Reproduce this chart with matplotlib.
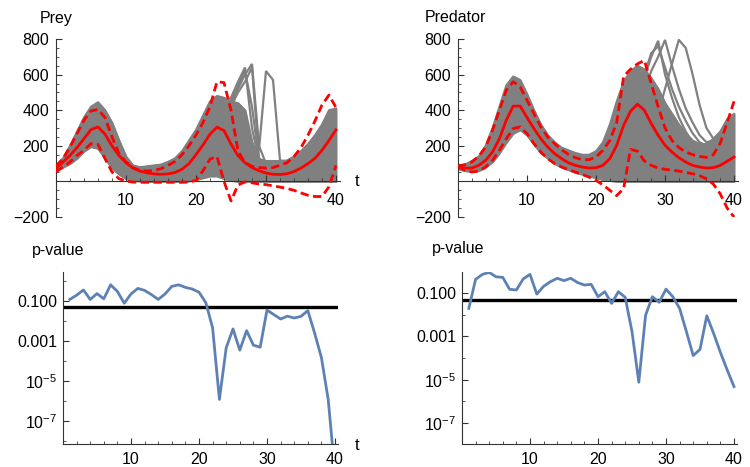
import matplotlib
matplotlib.use("Agg")
import matplotlib.pyplot as plt
from matplotlib.ticker import FixedLocator, FixedFormatter, MultipleLocator, NullFormatter

# ---------------- data ----------------
t_top = list(range(0, 41))
t_bot = list(range(1, 41))

prey_mean = [71, 109, 146, 190, 240, 291, 306, 265, 200, 145, 105,
             75, 58, 48, 42, 40, 42, 50, 68, 100, 150,
             205, 265, 305, 285, 210, 145, 105, 78, 60, 47,
             40, 39, 43, 55, 75, 100, 130, 175, 230, 290]
prey_upper = [85, 128, 193, 268, 344, 396, 404, 359, 250, 156, 109,
              77, 62, 58, 62, 71, 90, 112, 150, 200, 260,
              330, 420, 560, 555, 400, 170, 105, 85, 78, 75,
              78, 90, 105, 140, 190, 260, 340, 430, 485, 415]
prey_lower = [53, 81, 109, 146, 175, 212, 208, 128, 53, 15, 2,
              -4, -5, -5, -5, -5, -5, -5, -5, -3, 5,
              60, 125, 140, 0, -110, -20, -3, -8, -15, -18,
              -25, -32, -40, -50, -65, -78, -85, -85, -30, 90]
prey_gray_hi = [90, 130, 200, 280, 360, 420, 445, 400, 330, 230, 140,
                90, 80, 85, 90, 95, 110, 130, 170, 230, 290,
                370, 450, 480, 470, 450, 440, 400, 220, 125, 115,
                115, 115, 118, 140, 170, 210, 260, 320, 400, 410]
prey_gray_lo = [65, 80, 100, 130, 170, 195, 185, 130, 75, 40, 15,
                5, 2, 0, 0, 0, 0, 0, 0, 2, 10,
                20, 30, 30, 15, 5, 0, 0, 0, 0, 0,
                0, 0, 0, 0, 0, 0, 0, 0, 0, 0]
prey_out_t = [23, 24, 25, 26, 27, 28, 29, 30, 31, 32, 33]
prey_out = [
    [350, 420, 470, 560, 640, 300, 110, 95, 100, 105, 110],
    [300, 380, 440, 520, 600, 660, 200, 100, 95, 100, 110],
    [330, 400, 450, 540, 620, 420, 120, 100, 100, 105, 110],
    [280, 350, 420, 500, 560, 640, 130, 100, 100, 105, 110],
    [200, 150, 120, 110, 105, 110, 180, 620, 570, 118, 110],
]

pred_mean = [81, 75, 75, 90, 118, 165, 240, 344, 423, 423, 359,
             297, 240, 193, 156, 128, 105, 90, 81, 75, 77,
             90, 128, 203, 315, 394, 434, 400, 325, 259, 203,
             165, 133, 109, 90, 81, 75, 77, 90, 113, 137]
pred_upper = [85, 94, 109, 141, 193, 287, 400, 513, 560, 531, 456,
              381, 306, 250, 212, 178, 152, 133, 122, 122, 137,
              175, 230, 330, 590, 630, 660, 680, 550, 420, 300,
              230, 190, 165, 150, 140, 135, 150, 215, 330, 450]
pred_lower = [85, 62, 53, 58, 81, 118, 175, 240, 297, 306, 269,
              212, 165, 128, 100, 81, 66, 53, 39, 24, 6,
              -20, -50, -80, -40, 180, 170, 115, 90, 75, 68,
              63, 58, 50, 43, 32, 15, -15, -70, -150, -200]
pred_gray_hi = [90, 95, 115, 140, 200, 300, 420, 540, 590, 570, 490,
                400, 320, 260, 220, 190, 175, 160, 150, 150, 170,
                220, 320, 450, 560, 620, 650, 630, 580, 520, 440,
                380, 320, 270, 230, 210, 210, 240, 280, 350, 380]
pred_gray_lo = [70, 60, 55, 60, 80, 110, 160, 220, 270, 290, 260,
                210, 160, 130, 100, 80, 65, 50, 40, 30, 20,
                10, 5, 0, 0, 0, 0, 0, 0, 0, 0,
                0, 0, 0, 0, 0, 0, 0, 0, 0, 0]
pred_out_t = [26, 27, 28, 29, 30, 31, 32, 33, 34, 35, 36, 37, 38, 39]
pred_out = [
    [450, 580, 700, 790, 600, 470, 360, 280, 220, 190, 185, 190, 200, 220],
    [480, 600, 720, 760, 640, 520, 420, 340, 270, 220, 200, 210, 230, 250],
    [400, 500, 620, 700, 795, 650, 520, 410, 330, 260, 220, 230, 250, 270],
    [250, 300, 330, 380, 520, 660, 795, 750, 600, 430, 300, 240, 260, 300],
]

prey_p = [0.12, 0.195, 0.355, 0.12, 0.234, 0.129, 0.646, 0.302, 0.0776, 0.224,
          0.427, 0.339, 0.209, 0.12, 0.224, 0.537, 0.646, 0.479, 0.398, 0.275,
          0.0832, 0.00457, 1.2e-6, 4.6e-4, 4.0e-3, 3.5e-4, 3.3e-3, 6.2e-4, 4.9e-4, 0.0355,
          0.0209, 0.0126, 0.0174, 0.0141, 0.0170, 0.0331, 2.5e-3, 1.5e-4, 1.2e-6, 2.5e-10]
pred_p = [0.0195, 0.427, 0.724, 0.891, 0.562, 0.525, 0.148, 0.138, 0.447, 0.724,
          0.0891, 0.204, 0.331, 0.479, 0.372, 0.479, 0.302, 0.234, 0.251, 0.0676,
          0.115, 0.0331, 0.115, 0.0631, 1.66e-3, 7.6e-6, 9.5e-3, 0.0676, 0.0372, 0.151,
          0.0676, 0.0195, 1.66e-3, 1.29e-4, 2.5e-4, 8.9e-3, 1.38e-3, 1.82e-4, 2.8e-5, 4.8e-6]
p_threshold = 0.05

x_ticks = [10, 20, 30, 40]
x_tick_labels = ["10", "20", "30", "40"]
y_ticks_top = [-200, 200, 400, 600, 800]
y_tick_labels_top = ["\u2212200", "200", "400", "600", "800"]
y_ticks_bot = [1e-1, 1e-3, 1e-5, 1e-7]
y_tick_labels_bot = ["0.100", "0.001", "$10^{-5}$", "$10^{-7}$"]

# ---------------- style ----------------
plt.rcParams["font.family"] = ["Liberation Sans", "DejaVu Sans"]
plt.rcParams["mathtext.fontset"] = "custom"
plt.rcParams["mathtext.rm"] = "Liberation Sans"
plt.rcParams["mathtext.it"] = "Liberation Sans:italic"

GRAY = "#808080"
RED = "#ff0000"
BLUE = "#5e81b5"
AX = "#333333"
FS = 11.5

fig = plt.figure(figsize=(7.5, 4.67), dpi=100)


def px_axes(x0, x1, ytop, ybot):
    return fig.add_axes([x0 / 750, (467 - ybot) / 467, (x1 - x0) / 750, (ybot - ytop) / 467])


def common(ax):
    for s in ("top", "right"):
        ax.spines[s].set_visible(False)
    for s in ("left", "bottom"):
        ax.spines[s].set_color(AX)
        ax.spines[s].set_linewidth(0.8)
    ax.set_xlim(0, 40.5)
    ax.xaxis.set_major_locator(FixedLocator(x_ticks))
    ax.xaxis.set_major_formatter(FixedFormatter(x_tick_labels))
    ax.xaxis.set_minor_locator(MultipleLocator(2))
    ax.tick_params(which="major", direction="in", length=4, width=0.8, colors=AX,
                   labelcolor="black", labelsize=FS)
    ax.tick_params(which="minor", direction="in", length=2.2, width=0.6, colors=AX)
    ax.patch.set_alpha(0)


def top_panel(ax, mean, upper, lower, ghi, glo, out_t, outs):
    common(ax)
    ax.set_ylim(-200, 800)
    ax.spines["bottom"].set_position(("data", 0))
    ax.yaxis.set_major_locator(FixedLocator(y_ticks_top))
    ax.yaxis.set_major_formatter(FixedFormatter(y_tick_labels_top))
    ax.yaxis.set_minor_locator(MultipleLocator(50))
    ax.tick_params(axis="x", pad=8)
    ax.tick_params(axis="y", pad=5)
    ax.fill_between(t_top, glo, ghi, color=GRAY, lw=1.4, zorder=1)
    ax.plot(t_top, ghi, color=GRAY, lw=1.4, zorder=1)
    ax.plot(t_top, glo, color=GRAY, lw=1.4, zorder=1)
    for o in outs:
        ax.plot(out_t, o, color=GRAY, lw=1.6, zorder=1, solid_joinstyle="miter")
    ax.plot(t_top, mean, color=RED, lw=2.0, zorder=3)
    for d in (upper, lower):
        ax.plot(t_top, d, color=RED, lw=2.0, dashes=(3.0, 1.6), zorder=3)


def bot_panel(ax, p, ylim):
    common(ax)
    ax.set_yscale("log")
    ax.set_ylim(*ylim)
    ax.yaxis.set_major_locator(FixedLocator(y_ticks_bot))
    ax.yaxis.set_major_formatter(FixedFormatter(y_tick_labels_bot))
    ax.yaxis.set_minor_locator(FixedLocator([1e0, 1e-2, 1e-4, 1e-6, 1e-8]))
    ax.yaxis.set_minor_formatter(NullFormatter())
    ax.tick_params(axis="x", pad=6)
    ax.tick_params(axis="y", pad=4)
    ax.axhline(p_threshold, color="black", lw=2.4, zorder=2)
    ax.plot(t_bot, p, color=BLUE, lw=2.0, zorder=3)


ax1 = px_axes(56, 339.5, 39, 217)
top_panel(ax1, prey_mean, prey_upper, prey_lower, prey_gray_hi, prey_gray_lo, prey_out_t, prey_out)
ax2 = px_axes(458, 737.5, 39, 217)
top_panel(ax2, pred_mean, pred_upper, pred_lower, pred_gray_hi, pred_gray_lo, pred_out_t, pred_out)
ax3 = px_axes(63, 338.4, 272, 444)
bot_panel(ax3, prey_p, (10 ** -8.15, 10 ** 0.45))
ax4 = px_axes(462, 737.4, 272, 444)
bot_panel(ax4, pred_p, (10 ** -7.97, 10 ** -0.03))

fig.text(40 / 750, 1 - 19 / 467, "Prey", ha="left", va="center", fontsize=FS)
fig.text(425 / 750, 1 - 18 / 467, "Predator", ha="left", va="center", fontsize=FS)
fig.text(32 / 750, 1 - 250 / 467, "p-value", ha="left", va="center", fontsize=FS)
fig.text(432 / 750, 1 - 249 / 467, "p-value", ha="left", va="center", fontsize=FS)
fig.text(357 / 750, 1 - 182 / 467, "t", ha="center", va="center", fontsize=12)
fig.text(357 / 750, 1 - 446 / 467, "t", ha="center", va="center", fontsize=12)

fig.savefig("out.png", dpi=100)
